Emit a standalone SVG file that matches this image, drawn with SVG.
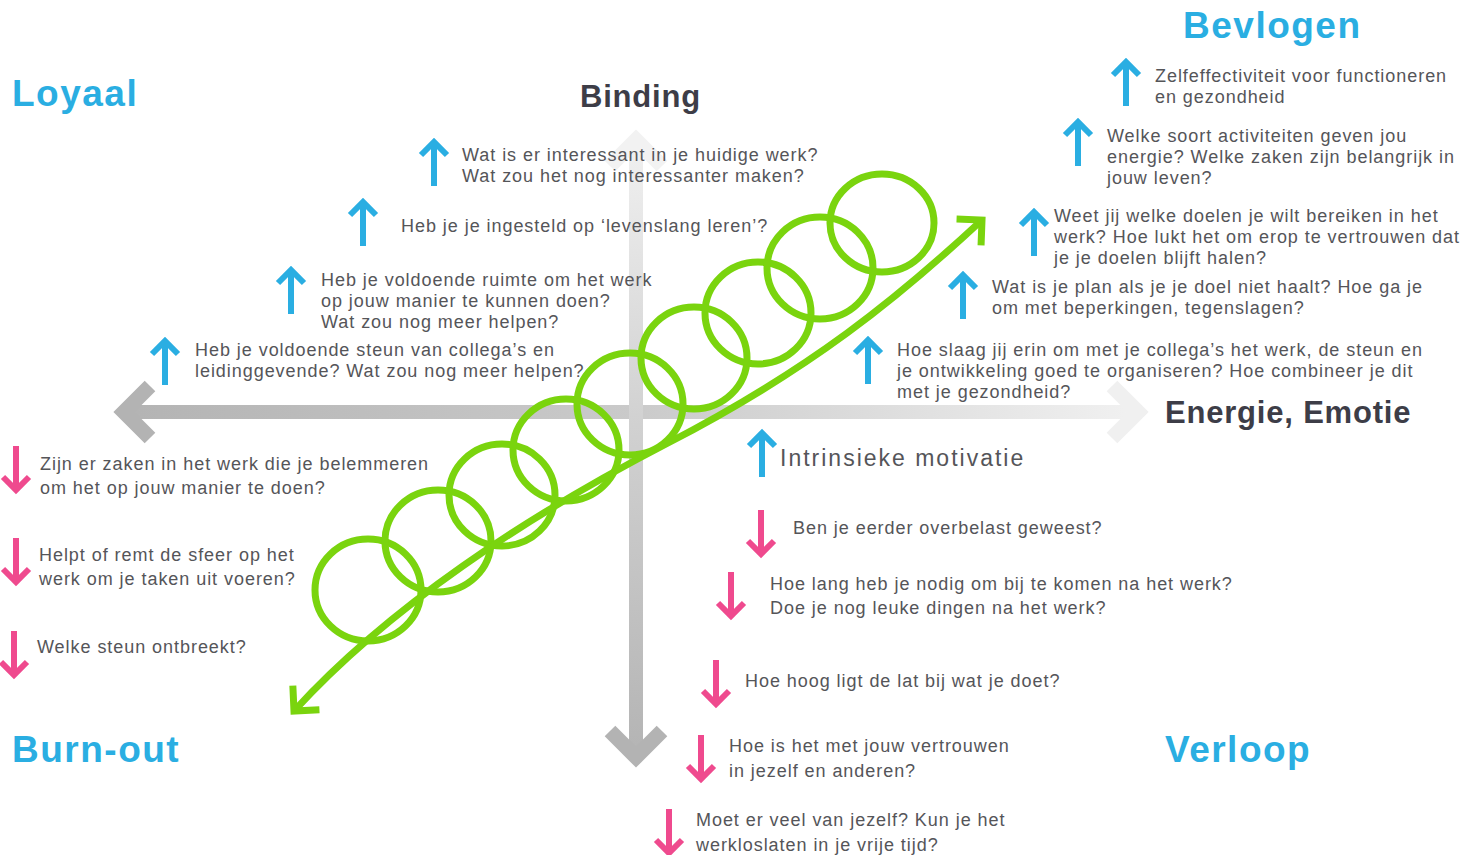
<svg xmlns="http://www.w3.org/2000/svg" xmlns:xlink="http://www.w3.org/1999/xlink" width="1479" height="855" viewBox="0 0 1479 855">
<style>
.t{font-family:"Liberation Sans",Arial,sans-serif;font-size:18px;fill:#555559;letter-spacing:0.95px}
.big{font-family:"Liberation Sans",Arial,sans-serif;font-size:23px;fill:#555559;letter-spacing:2px}
.q{font-family:"Liberation Sans",Arial,sans-serif;font-weight:bold;font-size:37px;fill:#2aaee2;letter-spacing:1.5px}
.ax{font-family:"Liberation Sans",Arial,sans-serif;font-weight:bold;font-size:31px;fill:#3d3d47;letter-spacing:0.8px}
.coil{fill:none;stroke:#7ad40e;stroke-width:7}
</style>
<defs>
<linearGradient id="gh" gradientUnits="userSpaceOnUse" x1="115" y1="0" x2="1150" y2="0">
<stop offset="0" stop-color="#b3b3b3"/><stop offset="0.5" stop-color="#cacaca"/><stop offset="1" stop-color="#f2f2f2"/>
</linearGradient>
<linearGradient id="gv" gradientUnits="userSpaceOnUse" x1="0" y1="125" x2="0" y2="768">
<stop offset="0" stop-color="#f2f2f2"/><stop offset="0.45" stop-color="#d2d2d2"/><stop offset="1" stop-color="#b3b3b3"/>
</linearGradient>
<g id="arrow-up"><path d="M0,48 V6 M-13,17 L0,4 L13,17" fill="none" stroke="#2aaee2" stroke-width="6"/></g>
<g id="arrow-down"><path d="M0,0 V42 M-13,31 L0,44 L13,31" fill="none" stroke="#ef4a8e" stroke-width="6"/></g>
<marker id="gh-head" markerUnits="userSpaceOnUse" viewBox="-30 -30 40 60" markerWidth="40" markerHeight="60" refX="0" refY="0" orient="auto-start-reverse" overflow="visible">
<path d="M-18,-18 L0,0 L-18,18" fill="none" stroke="#7ad40e" stroke-width="7"/>
</marker>
</defs>
<rect width="1479" height="855" fill="#ffffff"/>

<g id="axes">
<rect x="122" y="405" width="1020" height="14" fill="url(#gh)"/>
<polyline points="150,386 124,412 150,438" fill="none" stroke="#b3b3b3" stroke-width="15"/>
<polyline points="1112,386 1138,412 1112,438" fill="none" stroke="#f0f0f0" stroke-width="15"/>
<rect x="629" y="140" width="14" height="615" fill="url(#gv)"/>
<polyline points="610,166 636,140 662,166" fill="none" stroke="#f2f2f2" stroke-width="15"/>
<polyline points="610,731 636,757 662,731" fill="none" stroke="#b3b3b3" stroke-width="15"/>
</g>

<g id="spiral">
<ellipse class="coil" cx="368" cy="590" rx="53" ry="51"/>
<ellipse class="coil" cx="438" cy="541" rx="53" ry="51"/>
<ellipse class="coil" cx="502" cy="495" rx="53" ry="51"/>
<ellipse class="coil" cx="566" cy="450" rx="53" ry="51"/>
<ellipse class="coil" cx="630" cy="404" rx="53" ry="51"/>
<ellipse class="coil" cx="694" cy="358" rx="53" ry="51"/>
<ellipse class="coil" cx="758" cy="313" rx="53" ry="51"/>
<ellipse class="coil" cx="820" cy="268" rx="53" ry="51"/>
<ellipse class="coil" cx="882" cy="223" rx="52" ry="49"/>
<path class="coil" d="M294,711 C388,608 525,517 668,443 S898,298 982,220" marker-start="url(#gh-head)" marker-end="url(#gh-head)"/>
</g>

<g id="quadrant-labels">
<text class="q" x="12" y="106">Loyaal</text>
<text class="q" x="1183" y="38">Bevlogen</text>
<text class="q" x="12" y="762">Burn-out</text>
<text class="q" x="1165" y="762">Verloop</text>
</g>
<g id="axis-binding"><text class="ax" x="580" y="107">Binding</text></g>
<g id="axis-energie"><text class="ax" x="1165" y="423">Energie, Emotie</text></g>

<g id="u1"><use href="#arrow-up" x="434" y="138"/>
<text class="t" x="462" y="161">Wat is er interessant in je huidige werk?</text>
<text class="t" x="462" y="182">Wat zou het nog interessanter maken?</text></g>
<g id="u2"><use href="#arrow-up" x="363" y="198"/>
<text class="t" x="401" y="232">Heb je je ingesteld op ‘levenslang leren’?</text></g>
<g id="u3"><use href="#arrow-up" x="291" y="266"/>
<text class="t" x="321" y="286">Heb je voldoende ruimte om het werk</text>
<text class="t" x="321" y="307">op jouw manier te kunnen doen?</text>
<text class="t" x="321" y="328">Wat zou nog meer helpen?</text></g>
<g id="u4"><use href="#arrow-up" x="165" y="337"/>
<text class="t" x="195" y="356">Heb je voldoende steun van collega’s en</text>
<text class="t" x="195" y="377">leidinggevende? Wat zou nog meer helpen?</text></g>
<g id="u5"><use href="#arrow-up" x="1126" y="58"/>
<text class="t" x="1155" y="82">Zelfeffectiviteit voor functioneren</text>
<text class="t" x="1155" y="103">en gezondheid</text></g>
<g id="u6"><use href="#arrow-up" x="1078" y="118"/>
<text class="t" x="1107" y="142">Welke soort activiteiten geven jou</text>
<text class="t" x="1107" y="163">energie? Welke zaken zijn belangrijk in</text>
<text class="t" x="1107" y="184">jouw leven?</text></g>
<g id="u7"><use href="#arrow-up" x="1034" y="208"/>
<text class="t" x="1054" y="222">Weet jij welke doelen je wilt bereiken in het</text>
<text class="t" x="1054" y="243">werk? Hoe lukt het om erop te vertrouwen dat</text>
<text class="t" x="1054" y="264">je je doelen blijft halen?</text></g>
<g id="u8"><use href="#arrow-up" x="963" y="271"/>
<text class="t" x="992" y="293">Wat is je plan als je je doel niet haalt? Hoe ga je</text>
<text class="t" x="992" y="314">om met  beperkingen, tegenslagen?</text></g>
<g id="u9"><use href="#arrow-up" x="868" y="336"/>
<text class="t" x="897" y="356">Hoe slaag jij erin om met je collega’s het werk, de steun en</text>
<text class="t" x="897" y="377">je ontwikkeling goed te organiseren? Hoe combineer je dit</text>
<text class="t" x="897" y="398">met je gezondheid?</text></g>
<g id="u10"><use href="#arrow-up" x="762" y="429"/>
<text class="big" x="780" y="466">Intrinsieke motivatie</text></g>

<g id="d1"><use href="#arrow-down" x="16" y="446"/>
<text class="t" x="40" y="470">Zijn er zaken in het werk die je belemmeren</text>
<text class="t" x="40" y="494">om het op jouw manier te doen?</text></g>
<g id="d2"><use href="#arrow-down" x="16" y="538"/>
<text class="t" x="39" y="561">Helpt of remt de sfeer op het</text>
<text class="t" x="39" y="585">werk om je taken uit voeren?</text></g>
<g id="d3"><use href="#arrow-down" x="14" y="631"/>
<text class="t" x="37" y="653">Welke steun ontbreekt?</text></g>
<g id="d4"><use href="#arrow-down" x="761" y="510"/>
<text class="t" x="793" y="534">Ben je eerder overbelast geweest?</text></g>
<g id="d5"><use href="#arrow-down" x="731" y="572"/>
<text class="t" x="770" y="590">Hoe lang heb je nodig om bij te komen na het werk?</text>
<text class="t" x="770" y="614">Doe je nog leuke dingen na het werk?</text></g>
<g id="d6"><use href="#arrow-down" x="716" y="660"/>
<text class="t" x="745" y="687">Hoe hoog ligt de lat bij wat je doet?</text></g>
<g id="d7"><use href="#arrow-down" x="701" y="735"/>
<text class="t" x="729" y="752">Hoe is het met jouw vertrouwen</text>
<text class="t" x="729" y="777">in jezelf en anderen?</text></g>
<g id="d8"><use href="#arrow-down" x="669" y="809"/>
<text class="t" x="696" y="826">Moet er veel van jezelf? Kun je het</text>
<text class="t" x="696" y="851">werkloslaten in je vrije tijd?</text></g>
</svg>
